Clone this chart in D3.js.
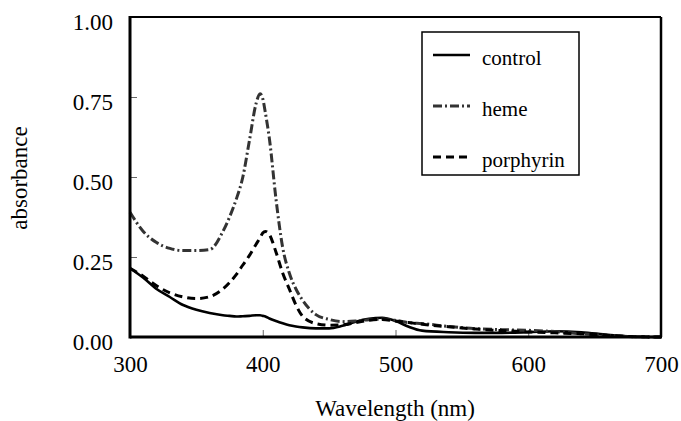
<!DOCTYPE html>
<html>
<head>
<meta charset="utf-8">
<script src="https://cdn.jsdelivr.net/npm/d3@7"></script>
<style>
  body { margin: 0; background: #fff; }
  svg text { font-family: "Liberation Serif", Tinos, "Times New Roman", Times, "DejaVu Serif", serif; fill: #000; }
</style>
</head>
<body>
<script>
// wavelength grid (nm) shared by all three spectra
var wavelengths = [300, 310, 320, 330, 340, 350, 360, 370, 375, 380, 385, 390, 395, 398, 400, 402, 405, 410, 415, 420,
  425, 430, 440, 450, 460, 470, 480, 490, 500, 510, 520, 540, 560, 580, 600, 620, 640, 660, 680, 700];

var control = [0.215, 0.185, 0.15, 0.125, 0.1, 0.085, 0.075, 0.068, 0.066, 0.064, 0.065, 0.066, 0.068, 0.068, 0.066, 0.064, 0.058, 0.05, 0.043, 0.037,
  0.033, 0.03, 0.027, 0.027, 0.035, 0.048, 0.057, 0.06, 0.05, 0.032, 0.02, 0.015, 0.013, 0.013, 0.015, 0.018, 0.015, 0.007, 0.001, 0];

var heme = [0.39, 0.33, 0.295, 0.277, 0.27, 0.27, 0.273, 0.33, 0.375, 0.43, 0.5, 0.615, 0.73, 0.76, 0.745, 0.7, 0.62, 0.43, 0.28, 0.2,
  0.15, 0.115, 0.07, 0.055, 0.048, 0.05, 0.054, 0.056, 0.052, 0.045, 0.042, 0.033, 0.026, 0.023, 0.021, 0.017, 0.01, 0.005, 0.001, 0];

var porphyrin = [0.215, 0.19, 0.16, 0.138, 0.125, 0.12, 0.126, 0.15, 0.17, 0.195, 0.225, 0.255, 0.29, 0.31, 0.325, 0.33, 0.32, 0.265, 0.2, 0.15,
  0.1, 0.065, 0.042, 0.037, 0.038, 0.045, 0.052, 0.055, 0.05, 0.045, 0.04, 0.032, 0.025, 0.02, 0.016, 0.013, 0.01, 0.005, 0.001, 0];

var seriesNames = ['control', 'heme', 'porphyrin'];
var xTicks = [300, 400, 500, 600, 700];
var yTicks = [0, 0.25, 0.5, 0.75, 1];

var margin = {top: 17, right: 20, bottom: 84, left: 130},
  width = 681 - margin.left - margin.right,
  height = 421 - margin.top - margin.bottom;

var styles = {
  control: {stroke: '#000', width: 2.6, dash: null},
  heme: {stroke: '#333', width: 3, dash: '9,3,2,3'},
  porphyrin: {stroke: '#000', width: 3, dash: '8,5'}
};

var svg = d3.select('body').append('svg')
  .attr('width', 681)
  .attr('height', 421);

var g = svg.append('g')
  .attr('transform', 'translate(' + margin.left + ',' + margin.top + ')');

var x = d3.scaleLinear().domain([300, 700]).range([0, width]);
var y = d3.scaleLinear().domain([0, 1]).range([height, 0]);

// axes with inward ticks
var xAxis = g.append('g')
  .attr('transform', 'translate(0,' + height + ')')
  .call(d3.axisBottom(x).tickValues(xTicks).tickSize(-7).tickPadding(19).tickFormat(d3.format('d')));

var yAxis = g.append('g')
  .call(d3.axisLeft(y).tickValues(yTicks).tickSize(-7).tickPadding(17).tickFormat(d3.format('.2f')));

[xAxis, yAxis].forEach(function(a) {
  a.attr('font-family', null);
  a.select('.domain').remove();
  a.selectAll('line').attr('stroke', '#666').attr('stroke-width', 1);
  a.selectAll('text').style('font-size', '23px');
});
yAxis.selectAll('text').attr('dy', '0.56em');

// curves
var series = seriesNames.map(function(name) {
  var vals = {control: control, heme: heme, porphyrin: porphyrin}[name];
  return {name: name, points: wavelengths.map(function(w, i) { return [w, vals[i]]; })};
});

var line = d3.line()
  .x(function(d) { return x(d[0]); })
  .y(function(d) { return y(d[1]); })
  .curve(d3.curveMonotoneX);

g.selectAll('.curve')
  .data(series)
  .enter().append('path')
  .attr('class', 'curve')
  .attr('d', function(d) { return line(d.points); })
  .attr('fill', 'none')
  .attr('stroke', function(d) { return styles[d.name].stroke; })
  .attr('stroke-width', function(d) { return styles[d.name].width; })
  .attr('stroke-dasharray', function(d) { return styles[d.name].dash; });

// frame
g.append('line').attr('x1', 0).attr('x2', width).attr('y1', 0).attr('y2', 0)
  .attr('stroke', '#000').attr('stroke-width', 2);
g.append('line').attr('x1', width).attr('x2', width).attr('y1', 0).attr('y2', height)
  .attr('stroke', '#000').attr('stroke-width', 2.5);
g.append('line').attr('x1', 0).attr('x2', 0).attr('y1', -1).attr('y2', height + 1.5)
  .attr('stroke', '#000').attr('stroke-width', 3);
g.append('line').attr('x1', 0).attr('x2', width + 1).attr('y1', height).attr('y2', height)
  .attr('stroke', '#000').attr('stroke-width', 3);

// axis titles
svg.append('text')
  .attr('x', 395).attr('y', 416)
  .attr('text-anchor', 'middle')
  .style('font-size', '23px')
  .text('Wavelength (nm)');

svg.append('text')
  .attr('transform', 'translate(27,178) rotate(-90)')
  .attr('text-anchor', 'middle')
  .style('font-size', '23px')
  .text('absorbance');

// legend
var legend = svg.append('g').attr('transform', 'translate(422,32)');
legend.append('rect')
  .attr('width', 157).attr('height', 143)
  .attr('fill', '#fff').attr('stroke', '#000').attr('stroke-width', 1.5);

var rows = legend.selectAll('.row')
  .data(seriesNames)
  .enter().append('g')
  .attr('transform', function(d, i) { return 'translate(0,' + (23 + i * 51) + ')'; });

rows.append('line')
  .attr('x1', 11).attr('x2', 48).attr('y1', 0).attr('y2', 0)
  .attr('stroke', function(d) { return styles[d].stroke; })
  .attr('stroke-width', function(d) { return styles[d].width; })
  .attr('stroke-dasharray', function(d) { return styles[d].dash; });

rows.append('text')
  .attr('x', 60).attr('y', 10)
  .style('font-size', '21px')
  .text(function(d) { return d; });
</script>
</body>
</html>
